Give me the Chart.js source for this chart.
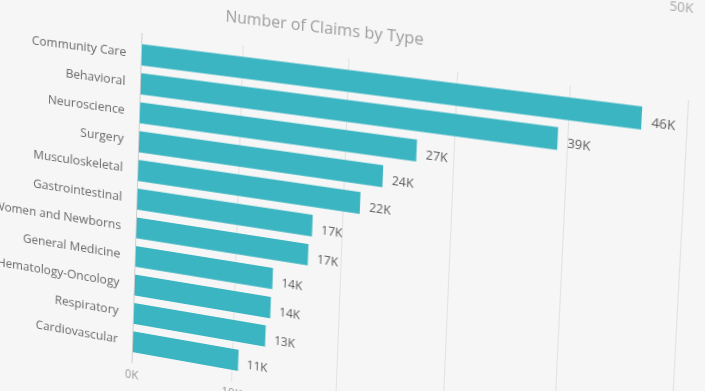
<!DOCTYPE html>
<html lang="en">
<head>
<meta charset="utf-8">
<title>Number of Claims by Type</title>
<script src="https://cdn.jsdelivr.net/npm/chart.js@4.4.1/dist/chart.umd.min.js"></script>
<style>
    html, body {
        margin: 0;
        padding: 0;
        width: 705px;
        height: 391px;
        overflow: hidden;
        background: #f6f6f6;
    }

    #claimsChart {
        position: absolute;
        left: 0;
        top: 0;
        transform-origin: 0 0;
        filter: blur(0.4px);
    }
</style>
</head>
<body>
<canvas id="claimsChart" width="740" height="480"></canvas>
<script>
const claimTypes = [
    'Community Care',
    'Behavioral',
    'Neuroscience',
    'Surgery',
    'Musculoskeletal',
    'Gastrointestinal',
    'Women and Newborns',
    'General Medicine',
    'Hematology-Oncology',
    'Respiratory',
    'Cardiovascular',
];
const claimCounts = [46200, 39100, 26600, 23600, 21600, 17200, 16900, 13600, 13500, 13100, 10550];
const axisTicks = [0, 10000, 20000, 30000, 40000, 50000];
const chartTitle = 'Number of Claims by Type';
const neighbourTick = '50K'; // tick of the visual above, cut off by the photo

// The reference is a photo of a screen, taken at an angle.
// Where the plot corners (0K / 50K, top / bottom) land in the photo.
const photoCorners = [
    [142, 33],
    [688, 100],
    [132, 363],
    [669, 460],
];

const FONT = '"Open Sans", "Segoe UI", sans-serif';

const formatK = (value) => `${Math.round(value / 1000)}K`;

const decorations = {
    id: 'decorations',
    afterDatasetsDraw(chart) {
        const { ctx, chartArea } = chart;
        const meta = chart.getDatasetMeta(0);

        ctx.save();
        ctx.textBaseline = 'middle';

        // Data labels
        ctx.font = `12px ${FONT}`;
        ctx.fillStyle = '#5c5c5c';
        ctx.textAlign = 'left';
        meta.data.forEach((bar, i) => {
            ctx.fillText(formatK(claimCounts[i]), bar.x + 9, bar.y + 4);
        });

        // Title
        ctx.font = `16px ${FONT}`;
        ctx.fillStyle = '#9d9d9d';
        ctx.textAlign = 'center';
        ctx.fillText(chartTitle, chartArea.left + chartArea.width * 0.35, chartArea.top - 27);

        // Axis label of the neighbouring visual
        ctx.font = `12px ${FONT}`;
        ctx.fillStyle = '#a8a8a8';
        ctx.fillText(neighbourTick, chartArea.right - 10, chartArea.top - 85);

        ctx.restore();
    },
};

function solveHomography(src, dst) {
    const A = [];
    const b = [];
    for (let i = 0; i < 4; i++) {
        const [x, y] = src[i];
        const [X, Y] = dst[i];
        A.push([x, y, 1, 0, 0, 0, -x * X, -y * X]);
        b.push(X);
        A.push([0, 0, 0, x, y, 1, -x * Y, -y * Y]);
        b.push(Y);
    }

    const n = 8;
    for (let c = 0; c < n; c++) {
        let p = c;
        for (let r = c + 1; r < n; r++) {
            if (Math.abs(A[r][c]) > Math.abs(A[p][c])) p = r;
        }
        [A[c], A[p]] = [A[p], A[c]];
        [b[c], b[p]] = [b[p], b[c]];
        for (let r = c + 1; r < n; r++) {
            const f = A[r][c] / A[c][c];
            for (let k = c; k < n; k++) A[r][k] -= f * A[c][k];
            b[r] -= f * b[c];
        }
    }

    const h = new Array(n);
    for (let r = n - 1; r >= 0; r--) {
        let s = b[r];
        for (let k = r + 1; k < n; k++) s -= A[r][k] * h[k];
        h[r] = s / A[r][r];
    }
    return h;
}

const canvas = document.getElementById('claimsChart');

const chart = new Chart(canvas.getContext('2d'), {
    type: 'bar',
    data: {
        datasets: [
            {
                label: 'Claims',
                data: claimCounts.map((count, i) => ({ x: count, y: i })),
                backgroundColor: '#3bb5c1',
                borderWidth: 0,
                barPercentage: 0.73,
                categoryPercentage: 1,
            },
        ],
    },
    plugins: [decorations],
    options: {
        indexAxis: 'y',
        responsive: false,
        animation: false,
        events: [],
        layout: {
            padding: { top: 100, left: 10, right: 40, bottom: 8 },
        },
        plugins: {
            legend: { display: false },
            tooltip: { enabled: false },
        },
        scales: {
            x: {
                type: 'linear',
                min: 0,
                max: 50000,
                afterBuildTicks: (scale) => {
                    scale.ticks = axisTicks.map((value) => ({ value }));
                },
                ticks: {
                    callback: (value) => formatK(value),
                    color: '#9a9a9a',
                    font: { family: FONT, size: 12 },
                    padding: 6,
                },
                grid: {
                    color: (ctx) => (ctx.tick && ctx.tick.value === 0 ? '#cdcdcd' : '#e2e2e2'),
                    drawTicks: false,
                },
                border: { display: false },
            },
            y: {
                type: 'linear',
                reverse: true,
                offset: false,
                min: -0.75,
                max: 10.75,
                afterBuildTicks: (scale) => {
                    scale.ticks = claimTypes.map((_, i) => ({ value: i }));
                },
                ticks: {
                    callback: (value) => claimTypes[value] ?? '',
                    color: '#686868',
                    font: { family: FONT, size: 13 },
                    padding: 8,
                },
                grid: { display: false, offset: false },
                border: { display: false },
            },
        },
    },
});

// Bend the flat chart into the photo's perspective
const xScale = chart.scales.x;
const area = chart.chartArea;
const flatCorners = [
    [xScale.getPixelForValue(0), area.top],
    [xScale.getPixelForValue(50000), area.top],
    [xScale.getPixelForValue(0), area.bottom],
    [xScale.getPixelForValue(50000), area.bottom],
];
const [a, b, c, d, e, f, g, h] = solveHomography(flatCorners, photoCorners);
canvas.style.transform = `matrix3d(${a},${d},0,${g},${b},${e},0,${h},0,0,1,0,${c},${f},0,1)`;
</script>
</body>
</html>
